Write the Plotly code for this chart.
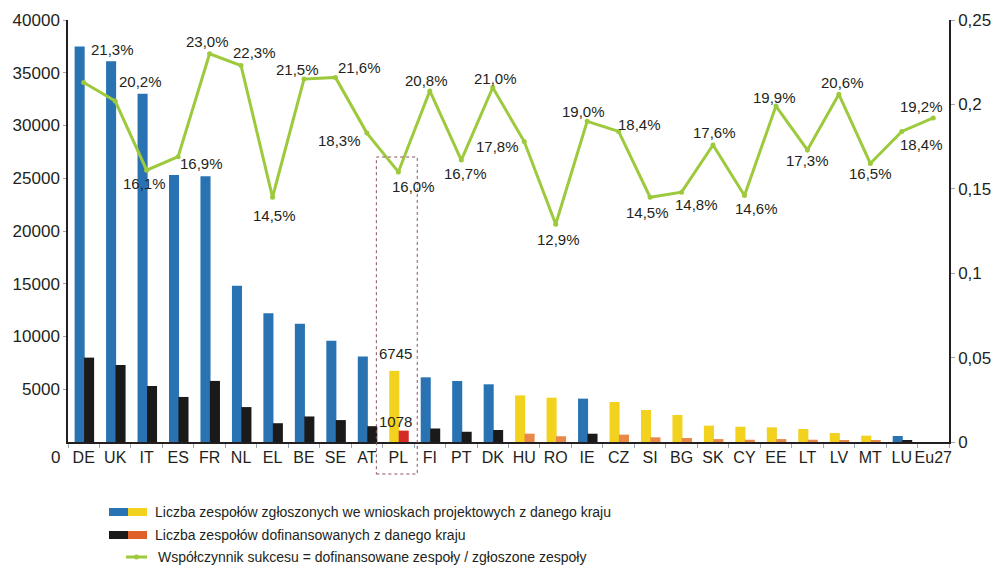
import plotly.graph_objects as go

countries = ["DE", "UK", "IT", "ES", "FR", "NL", "EL", "BE", "SE", "AT", "PL", "FI", "PT", "DK",
             "HU", "RO", "IE", "CZ", "SI", "BG", "SK", "CY", "EE", "LT", "LV", "MT", "LU", "Eu27"]
submitted = [37500, 36100, 33000, 25300, 25200, 14800, 12200, 11200, 9600, 8100, 6745, 6130, 5780, 5470,
             4420, 4200, 4110, 3790, 3030, 2560, 1550, 1450, 1390, 1230, 850, 600, 570, None]
funded = [8000, 7300, 5310, 4270, 5790, 3310, 1780, 2420, 2080, 1500, 1078, 1280, 970, 1140,
          790, 545, 785, 700, 445, 380, 275, 215, 278, 215, 176, 99, 105, None]
success = [0.213, 0.202, 0.161, 0.169, 0.230, 0.223, 0.145, 0.215, 0.216, 0.183, 0.160, 0.208, 0.167, 0.210,
           0.178, 0.129, 0.190, 0.184, 0.145, 0.148, 0.176, 0.146, 0.199, 0.173, 0.206, 0.165, 0.184, 0.192]
new_members = {"PL", "HU", "RO", "CZ", "SI", "BG", "SK", "CY", "EE", "LT", "LV", "MT"}
left_ticks = [5000, 10000, 15000, 20000, 25000, 30000, 35000, 40000]
left_tick_text = ["5000", "10000", "15000", "20000", "25000", "30000", "35000", "40000"]
right_ticks = [0, 0.05, 0.1, 0.15, 0.2, 0.25]
right_tick_text = ["0", "0,05", "0,1", "0,15", "0,2", "0,25"]

# label offsets (px) for percentage labels: (dx, dy)
label_offsets = [(29, 33), (25, 20), (-2, -13), (23, -7), (-2, 12), (13, 13), (2, -18), (-6, 10),
                 (24, 10), (-27, -7), (15, -15), (-3, 10), (4, -13), (3, 9), (-27, -5), (3, -15),
                 (-4, 10), (21, 7), (-3, -15), (15, -12), (1, 12), (12, -13), (-1, 9), (0, -11),
                 (4, 12), (0, -10), (20, -13), (-12, 11)]

BLUE = "#2a73b2"
YELLOW = "#f2d21e"
BLACK = "#1a1a1a"
ORANGE = "#e8894a"
RED = "#d42b27"
GREEN = "#9dca3c"

sub_colors = []
fund_colors = []
for c in countries:
    if c == "PL":
        sub_colors.append(YELLOW)
        fund_colors.append(RED)
    elif c in new_members:
        sub_colors.append(YELLOW)
        fund_colors.append(ORANGE)
    else:
        sub_colors.append(BLUE)
        fund_colors.append(BLACK)

FONT = "Liberation Sans, Arial, sans-serif"
TXT = "#231f20"

fig = go.Figure()
fig.add_trace(go.Bar(x=countries, y=submitted, marker=dict(color=sub_colors, line=dict(width=0)),
                     width=0.32, offset=-0.29, showlegend=False, hoverinfo="x+y"))
fig.add_trace(go.Bar(x=countries, y=funded, marker=dict(color=fund_colors, line=dict(width=0)),
                     width=0.32, offset=0.01, showlegend=False, hoverinfo="x+y"))
fig.add_trace(go.Scatter(x=countries, y=success, yaxis="y2", mode="lines+markers",
                         line=dict(color=GREEN, width=3), marker=dict(color=GREEN, size=5),
                         showlegend=False))

annotations = []
for c, v, (dx, dy) in zip(countries, success, label_offsets):
    annotations.append(dict(x=c, y=v, yref="y2", xref="x", text=f"{v*100:.1f}%".replace(".", ","),
                            showarrow=False, xshift=dx, yshift=dy,
                            font=dict(family=FONT, size=15, color=TXT)))

# PL value labels
pl = countries.index("PL")
annotations.append(dict(x="PL", y=submitted[pl], xref="x", yref="y", text=str(submitted[pl]),
                        showarrow=False, xshift=-3, yshift=17, font=dict(family=FONT, size=15, color=TXT)))
annotations.append(dict(x="PL", y=funded[pl], xref="x", yref="y", text=str(funded[pl]),
                        showarrow=False, xshift=-3, yshift=9, font=dict(family=FONT, size=15, color=TXT)))

# left axis "0" label
annotations.append(dict(x=0, y=0, xref="paper", yref="y", text="0", showarrow=False, xanchor="right",
                        xshift=-6, yshift=-15, font=dict(family=FONT, size=17, color=TXT)))

n = len(countries)
plot_top, plot_bot = 20, 442
plot_l, plot_r = 68, 949


def px_x(p):
    return (p - plot_l) / (plot_r - plot_l)


def px_y(p):
    return (plot_bot - p) / (plot_bot - plot_top)


shapes = []
# dotted box around PL
shapes.append(dict(type="rect", xref="paper", yref="paper",
                   x0=(pl + 0.5 - 0.70) / n, x1=(pl + 0.5 + 0.60) / n,
                   y0=px_y(474), y1=px_y(157),
                   line=dict(color="#8a5060", width=1, dash="dot"), fillcolor="rgba(0,0,0,0)"))

# custom legend
legend_items = [
    ("Liczba zespołów zgłoszonych we wnioskach projektowych z danego kraju", (BLUE, YELLOW), 512),
    ("Liczba zespołów dofinansowanych z danego kraju", (BLACK, "#e0602a"), 535),
    ("Współczynnik sukcesu = dofinansowane zespoły / zgłoszone zespoły", None, 557),
]

for text, cols, ypix in legend_items:
    if cols:
        shapes.append(dict(type="rect", xref="paper", yref="paper", x0=px_x(109), x1=px_x(128),
                           y0=px_y(ypix + 4), y1=px_y(ypix - 4), fillcolor=cols[0], line=dict(width=0)))
        shapes.append(dict(type="rect", xref="paper", yref="paper", x0=px_x(128), x1=px_x(147),
                           y0=px_y(ypix + 4), y1=px_y(ypix - 4), fillcolor=cols[1], line=dict(width=0)))
        tx = 153
    else:
        shapes.append(dict(type="line", xref="paper", yref="paper", x0=px_x(126), x1=px_x(147),
                           y0=px_y(ypix), y1=px_y(ypix), line=dict(color=GREEN, width=3)))
        shapes.append(dict(type="circle", xref="paper", yref="paper", x0=px_x(134), x1=px_x(139),
                           y0=px_y(ypix + 2.5), y1=px_y(ypix - 2.5), fillcolor=GREEN, line=dict(width=0)))
        tx = 156
    annotations.append(dict(x=px_x(tx), y=px_y(ypix), xref="paper", yref="paper", text=text,
                            showarrow=False, xanchor="left", yanchor="middle",
                            font=dict(family=FONT, size=14, color=TXT)))

fig.update_layout(
    width=993, height=567,
    margin=dict(l=68, r=44, t=20, b=125, autoexpand=False),
    paper_bgcolor="white", plot_bgcolor="white",
    bargap=0.36,
    showlegend=False,
    font=dict(family=FONT, size=16, color=TXT),
    xaxis=dict(type="category", categoryorder="array", categoryarray=countries,
               range=[-0.5, n - 0.5], showline=True, linecolor=TXT, linewidth=1.5,
               ticks="outside", tickson="boundaries", ticklen=4, tickcolor="#9aa6b4",
               tickangle=0, automargin=False,
               tickfont=dict(family=FONT, size=16, color=TXT), showgrid=False, zeroline=False),
    yaxis=dict(range=[0, 40000], tickvals=left_ticks, ticktext=left_tick_text, showline=True,
               linecolor=TXT, linewidth=1.5, automargin=False,
               ticks="outside", ticklen=3, tickcolor="#9aa6b4", showgrid=False, zeroline=False,
               tickfont=dict(family=FONT, size=17, color=TXT)),
    yaxis2=dict(range=[0, 0.25], overlaying="y", side="right", tickvals=right_ticks, ticktext=right_tick_text,
                showline=True, linecolor=TXT, linewidth=1.5, ticks="outside", ticklen=4, automargin=False,
                tickcolor="#9aa6b4", showgrid=False, zeroline=False,
                tickfont=dict(family=FONT, size=17, color=TXT)),
    annotations=annotations,
    shapes=shapes,
)

fig.write_html("out.html", config={"displayModeBar": False},
               post_script="document.body.style.margin='0';document.body.style.padding='0';")
